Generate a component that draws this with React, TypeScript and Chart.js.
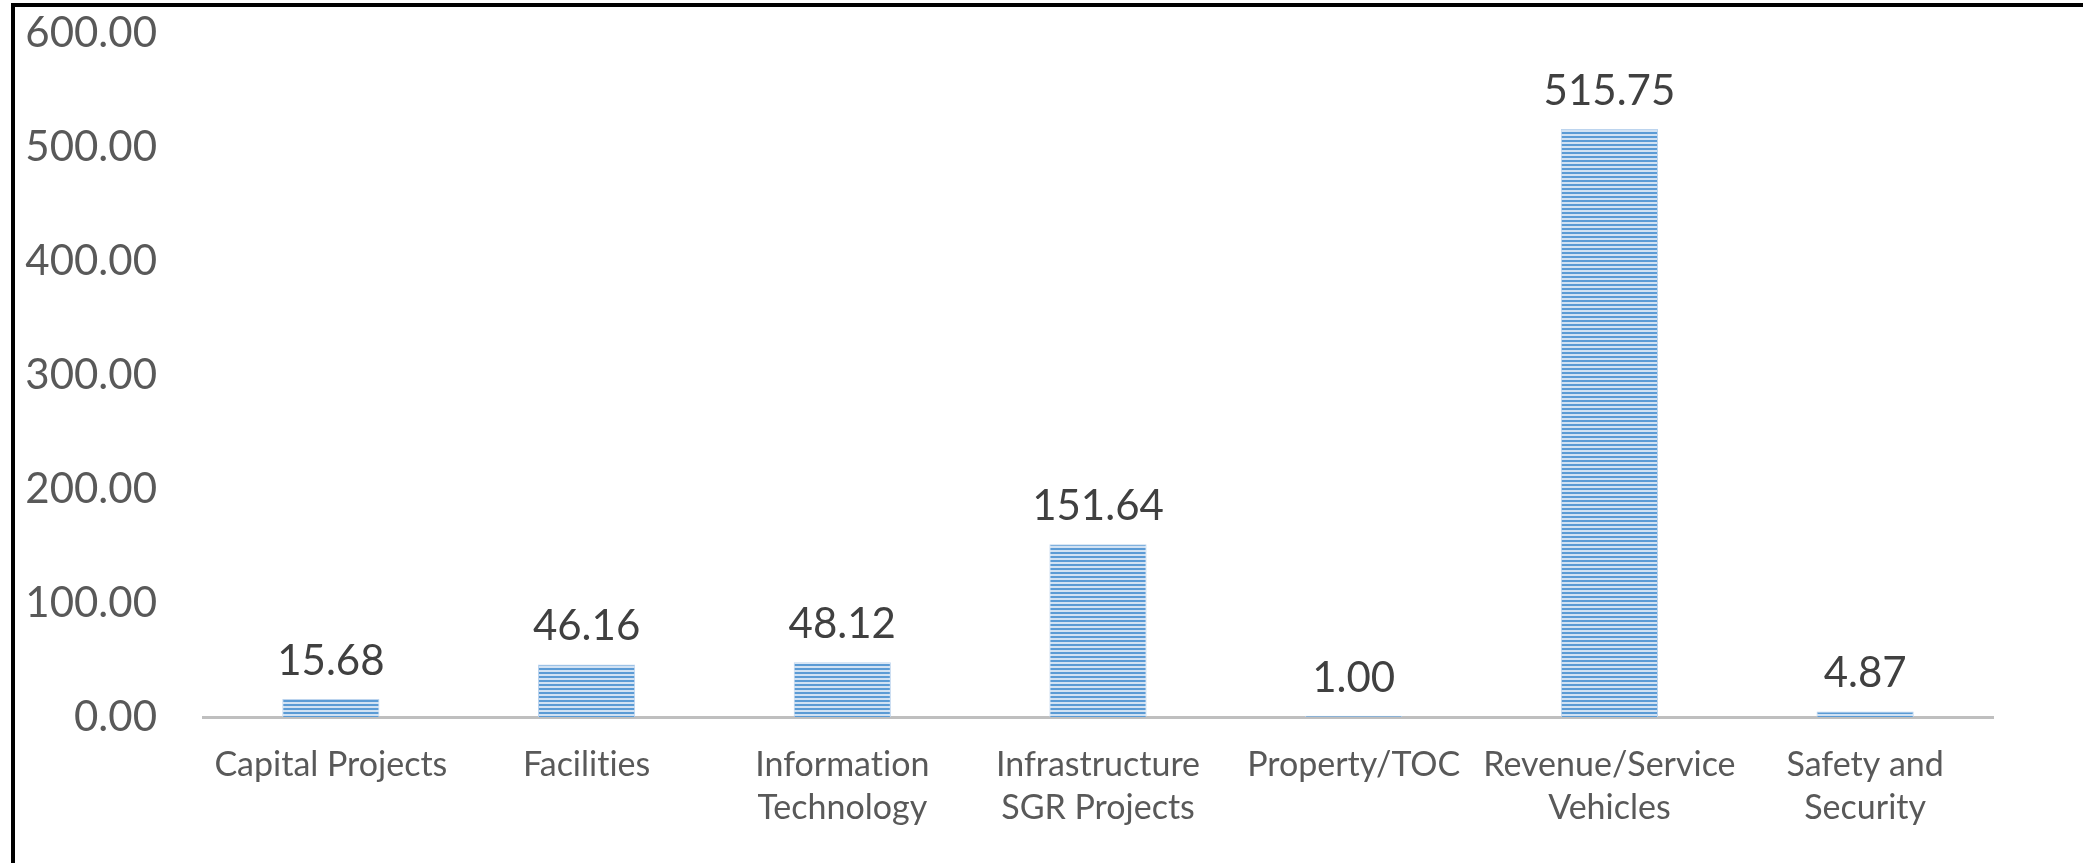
import React, { useEffect, useRef } from "react";
import { Chart, registerables } from "chart.js";

Chart.register(...registerables);

const categories: string[][] = [
  ["Capital Projects"],
  ["Facilities"],
  ["Information", "Technology"],
  ["Infrastructure", "SGR Projects"],
  ["Property/TOC"],
  ["Revenue/Service", "Vehicles"],
  ["Safety and", "Security"],
];
const values: number[] = [15.68, 46.16, 48.12, 151.64, 1.0, 515.75, 4.87];
const yMin = 0;
const yMax = 600;
const yStep = 100;

const FONT = "Lato, 'Noto Sans', sans-serif";

function makePattern(): CanvasPattern | string {
  const c = document.createElement("canvas");
  c.width = 4;
  c.height = 4;
  const ctx = c.getContext("2d");
  if (!ctx) return "#5b9bd5";
  ctx.fillStyle = "#d2e2f3";
  ctx.fillRect(0, 0, 4, 4);
  ctx.fillStyle = "#5b9bd5";
  ctx.fillRect(0, 0, 4, 2);
  const p = ctx.createPattern(c, "repeat");
  return p || "#5b9bd5";
}

const noLigatures = {
  id: "noLigatures",
  beforeDraw(chart: any) {
    try {
      (chart.ctx as any).textRendering = "optimizeSpeed";
    } catch (e) {}
  },
};

const valueLabels = {
  id: "valueLabels",
  afterDatasetsDraw(chart: any) {
    const ctx = chart.ctx;
    const meta = chart.getDatasetMeta(0);
    ctx.save();
    ctx.font = `42px ${FONT}`;
    ctx.fillStyle = "#404040";
    ctx.textAlign = "center";
    ctx.textBaseline = "alphabetic";
    meta.data.forEach((bar: any, i: number) => {
      const v = chart.data.datasets[0].data[i] as number;
      ctx.fillText(v.toFixed(2), bar.x, bar.y - 24);
    });
    ctx.restore();
  },
};

export default function App() {
  const ref = useRef<HTMLCanvasElement | null>(null);
  useEffect(() => {
    document.body.style.margin = "0";
    if (!ref.current) return;
    const chart = new Chart(ref.current, {
      type: "bar",
      data: {
        labels: categories,
        datasets: [
          {
            data: values,
            backgroundColor: makePattern() as any,
            borderColor: "#bcd4ee",
            borderWidth: 1,
            barPercentage: 0.38,
            categoryPercentage: 1,
          },
        ],
      },
      options: {
        responsive: false,
        animation: false,
        layout: { padding: { top: 33, right: 90, left: 0, bottom: 0 } },
        plugins: { legend: { display: false }, tooltip: { enabled: false } },
        scales: {
          x: {
            grid: { display: false, drawTicks: false },
            border: { display: true, color: "#bfbfbf", width: 3 },
            ticks: {
              color: "#595959",
              font: { family: FONT, size: 34, lineHeight: 1.27 },
              padding: 26,
              maxRotation: 0,
              autoSkip: false,
            },
            afterFit(scale: any) {
              scale.height = 146;
            },
          },
          y: {
            min: yMin,
            max: yMax,
            grid: { display: false, drawTicks: false },
            border: { display: false },
            ticks: {
              stepSize: yStep,
              color: "#595959",
              font: { family: FONT, size: 42 },
              padding: 46,
              callback: (v: any) => Number(v).toFixed(2),
            },
            afterFit(scale: any) {
              scale.width = 203;
              scale.paddingTop = 25;
              scale.paddingBottom = 25;
            },
          },
        },
      },
      plugins: [noLigatures, valueLabels],
    });
    return () => chart.destroy();
  }, []);

  return (
    <div style={{ position: "fixed", left: 0, top: 0, width: 2083, height: 863, background: "#fff" }}>
      <div
        style={{
          position: "absolute",
          left: 11,
          top: 3,
          width: 2072,
          height: 860,
          borderTop: "4px solid #000",
          borderLeft: "4px solid #000",
          boxSizing: "border-box",
        }}
      />
      <canvas ref={ref} width={2083} height={863} style={{ position: "absolute", left: 0, top: 0 }} />
    </div>
  );
}
